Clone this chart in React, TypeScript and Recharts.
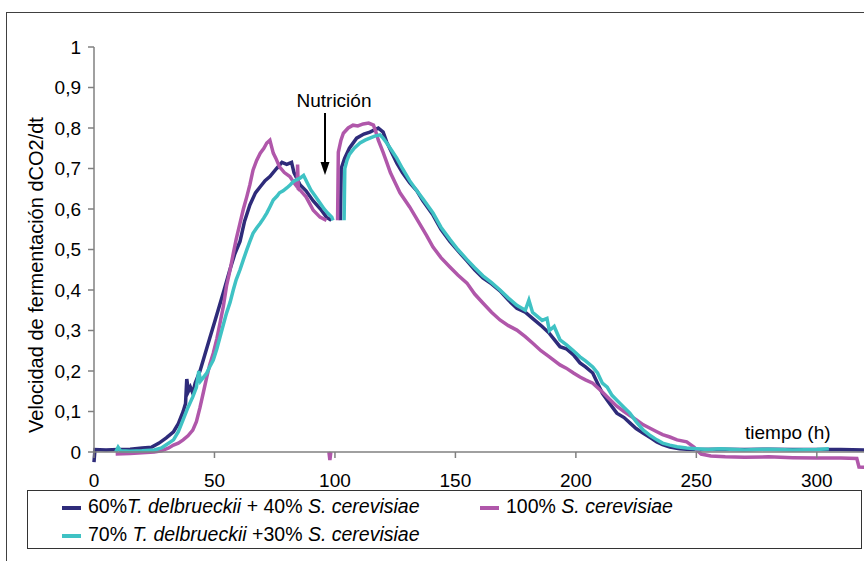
import React from 'react';
import { LineChart, Line, XAxis, YAxis } from 'recharts';

// 60% T. delbrueckii + 40% S. cerevisiae (null = gap at the nutrient addition)
const td60Time = [0, 0.4, 5, 10, 15, 20, 24, 27, 30, 33, 35, 37, 38, 38.5, 39.2, 40, 41, 42, 44, 46, 48, 50, 52, 54, 56.4, 58.5, 60.6, 62.5, 64.7, 67, 69, 71, 73, 75.8, 78, 80, 82, 83, 85.5, 88, 91, 94, 96.5, 98.5, 99.5, 102.3, 102.6, 104, 106, 109, 112, 114.5, 118, 120, 121.5, 123.5, 125.7, 128, 131, 134, 136.5, 140.7, 144, 147.7, 151, 154.8, 158, 161.4, 165, 168.5, 172, 175.5, 179, 182, 186, 189, 193.4, 196, 199, 201.7, 204, 207, 209, 211, 214, 217, 220, 222.4, 225, 228, 231, 233.6, 236, 239, 243, 246, 250, 260, 270, 280, 290, 300, 310, 320];
const td60Rate = [-0.025, 0.006, 0.005, 0.006, 0.007, 0.01, 0.012, 0.022, 0.035, 0.05, 0.07, 0.1, 0.12, 0.18, 0.15, 0.16, 0.145, 0.17, 0.2, 0.24, 0.28, 0.32, 0.36, 0.4, 0.45, 0.49, 0.52, 0.57, 0.61, 0.64, 0.655, 0.67, 0.68, 0.7, 0.715, 0.71, 0.715, 0.69, 0.66, 0.645, 0.62, 0.6, 0.58, 0.572, null, 0.572, 0.7, 0.725, 0.75, 0.775, 0.785, 0.79, 0.8, 0.79, 0.765, 0.74, 0.713, 0.69, 0.665, 0.645, 0.62, 0.585, 0.55, 0.52, 0.497, 0.472, 0.45, 0.43, 0.415, 0.398, 0.375, 0.355, 0.345, 0.33, 0.31, 0.293, 0.26, 0.255, 0.24, 0.22, 0.21, 0.195, 0.17, 0.145, 0.12, 0.096, 0.085, 0.072, 0.058, 0.046, 0.035, 0.025, 0.018, 0.012, 0.008, 0.007, 0.006, 0.007, 0.006, 0.007, 0.006, 0.006, 0.006, 0.005];

// 100% S. cerevisiae
const sc100Time = [9, 15, 20, 25, 28, 31, 33, 35, 37, 39, 41, 42.5, 44, 45.5, 46.8, 48, 49.5, 51, 52.3, 53.7, 55, 56.5, 57.8, 59, 60.6, 62, 63.4, 64.7, 66, 67.5, 69, 70.5, 71.7, 73, 74.4, 75.5, 77, 79, 81.3, 83, 84.3, 84.5, 84.8, 85.5, 88, 91, 93.8, 96.5, 97, 97.5, 97.9, 98.3, 99, 101.1, 101.4, 102.5, 103.5, 105.5, 107.5, 109.5, 111.7, 114, 116, 117, 118, 120, 121.5, 123, 125, 127, 131, 135, 138, 140.7, 144, 147.7, 151, 154.8, 158, 161.4, 165, 168.5, 172, 175.5, 179, 182, 185.5, 189, 193.4, 196, 199, 201.7, 204, 207, 211, 214, 217, 220, 222.4, 225, 228, 231, 233.6, 236, 239, 242, 246, 249, 252, 256, 262, 270, 280, 290, 300, 310, 316.6, 317.5, 320];
const sc100Rate = [-0.005, -0.004, -0.002, 0, 0.003, 0.01, 0.017, 0.022, 0.03, 0.04, 0.054, 0.075, 0.11, 0.15, 0.185, 0.215, 0.244, 0.28, 0.318, 0.36, 0.41, 0.45, 0.49, 0.525, 0.565, 0.6, 0.63, 0.66, 0.696, 0.72, 0.738, 0.75, 0.763, 0.77, 0.738, 0.725, 0.704, 0.69, 0.68, 0.665, 0.655, 0.71, 0.65, 0.647, 0.63, 0.597, 0.58, 0.572, null, 0, -0.02, 0, null, 0.572, 0.74, 0.77, 0.787, 0.8, 0.807, 0.805, 0.81, 0.812, 0.807, 0.79, 0.77, 0.74, 0.715, 0.69, 0.665, 0.64, 0.605, 0.565, 0.535, 0.506, 0.48, 0.457, 0.437, 0.417, 0.39, 0.368, 0.345, 0.326, 0.312, 0.301, 0.285, 0.269, 0.25, 0.235, 0.215, 0.207, 0.195, 0.185, 0.178, 0.17, 0.148, 0.13, 0.113, 0.1, 0.09, 0.08, 0.067, 0.058, 0.05, 0.043, 0.037, 0.03, 0.025, 0.012, -0.005, -0.01, -0.012, -0.013, -0.012, -0.014, -0.015, -0.015, -0.016, -0.037, -0.038];

// 70% T. delbrueckii + 30% S. cerevisiae
const td70Time = [9, 10, 11, 15, 20, 25, 28, 30, 33, 35, 37, 39, 41, 42.5, 43.5, 44.2, 45.5, 46.8, 48, 49.5, 51, 52.3, 53.7, 55, 56.5, 57.8, 59, 60.6, 62, 63.4, 64.7, 66, 67.5, 69, 70.5, 71.7, 73, 74.4, 76, 77, 78.5, 80, 81.5, 82.6, 84, 85.5, 87, 88.5, 90, 92, 93.8, 95.5, 97, 98.7, 99.2, 101, 103.8, 104.1, 105, 106, 108, 110.4, 112.5, 114.5, 116.5, 118.7, 120, 121.5, 123.5, 125.7, 128, 131, 134, 136.5, 140.7, 144, 147.7, 151, 154.8, 158, 161.4, 165, 168.5, 172, 175.5, 179, 180.5, 182, 186, 188, 189, 191, 193.4, 196, 199, 201.7, 204, 207, 209, 211, 213, 215, 217, 220, 222.4, 225, 228, 231, 233.6, 236, 239, 242, 246, 250, 255, 260, 270, 280, 290, 300, 305];
const td70Rate = [0, 0.012, 0.003, 0.002, 0.003, 0.005, 0.01, 0.018, 0.03, 0.05, 0.08, 0.11, 0.136, 0.16, 0.2, 0.175, 0.185, 0.195, 0.21, 0.227, 0.255, 0.284, 0.315, 0.343, 0.37, 0.4, 0.425, 0.45, 0.475, 0.499, 0.52, 0.54, 0.553, 0.565, 0.578, 0.59, 0.605, 0.622, 0.632, 0.64, 0.645, 0.652, 0.66, 0.667, 0.672, 0.676, 0.683, 0.665, 0.647, 0.63, 0.615, 0.6, 0.59, 0.58, 0.572, null, 0.572, 0.7, 0.72, 0.735, 0.75, 0.763, 0.77, 0.775, 0.78, 0.783, 0.775, 0.763, 0.745, 0.725, 0.7, 0.67, 0.645, 0.625, 0.59, 0.555, 0.525, 0.5, 0.475, 0.455, 0.435, 0.418, 0.4, 0.38, 0.362, 0.35, 0.375, 0.345, 0.325, 0.33, 0.3, 0.31, 0.277, 0.265, 0.25, 0.235, 0.225, 0.21, 0.195, 0.17, 0.16, 0.14, 0.128, 0.11, 0.096, 0.075, 0.054, 0.04, 0.03, 0.022, 0.017, 0.013, 0.01, 0.008, 0.006, 0.008, 0.005, 0.007, 0.005, 0.006, 0.008];

const xTicks = [0, 50, 100, 150, 200, 250, 300];
const yTicks = [0, 0.1, 0.2, 0.3, 0.4, 0.5, 0.6, 0.7, 0.8, 0.9, 1];

const NAVY = '#2E2B7A';
const MAGENTA = '#B057AA';
const CYAN = '#3FC2C4';
const FONT = '"Liberation Sans", Arial, sans-serif';

const toPoints = (time: number[], rate: (number | null)[]) =>
  time.map((t, i) => ({ t, v: rate[i] }));

const fmtY = (v: number) => (v === 0 ? '0' : v === 1 ? '1' : v.toFixed(1).replace('.', ','));

const Swatch = ({ color }: { color: string }) => (
  <span style={{ display: 'inline-block', width: 19, height: 4, background: color, marginRight: 7, verticalAlign: 'middle' }} />
);

export default function App() {
  return (
    <div style={{ position: 'absolute', left: 0, top: 0, width: 864, height: 561, overflow: 'hidden', background: '#fff', fontFamily: FONT }}>
      {/* series may dip a little below 0, as in the original */}
      <style>{'.noclip, .noclip * { clip-path: none !important; }'}</style>
      {/* outer frame */}
      <div style={{ position: 'absolute', left: 6, top: 12, width: 900, height: 600, border: '1px solid #404040' }} />

      <div style={{ position: 'absolute', left: 0, top: 0 }}>
        <LineChart width={880} height={561} margin={{ top: 47, right: 15, bottom: 69, left: 0 }}>
          <XAxis
            type="number"
            dataKey="t"
            domain={[0, 320]}
            ticks={xTicks}
            allowDataOverflow
            height={40}
            stroke="#808080"
            strokeWidth={1.5}
            tickSize={6}
            tickMargin={16}
            tick={{ fill: '#000', fontSize: 19 }}
          />
          <YAxis
            type="number"
            domain={[0, 1]}
            ticks={yTicks}
            allowDataOverflow
            width={94}
            stroke="#808080"
            strokeWidth={1.5}
            tickSize={6}
            tickMargin={7}
            tickFormatter={fmtY}
            tick={{ fill: '#000', fontSize: 19 }}
          />
          <Line className="noclip" data={toPoints(td60Time, td60Rate)} dataKey="v" type="linear" dot={false} stroke={NAVY} strokeWidth={3.5} isAnimationActive={false} />
          <Line className="noclip" data={toPoints(sc100Time, sc100Rate)} dataKey="v" type="linear" dot={false} stroke={MAGENTA} strokeWidth={3.5} isAnimationActive={false} />
          <Line className="noclip" data={toPoints(td70Time, td70Rate)} dataKey="v" type="linear" dot={false} stroke={CYAN} strokeWidth={3.5} isAnimationActive={false} />
        </LineChart>
      </div>

      {/* annotations */}
      <svg width={864} height={561} style={{ position: 'absolute', left: 0, top: 0, pointerEvents: 'none' }}>
        <text x={36} y={275} transform="rotate(-90 36 275)" textAnchor="middle" dominantBaseline="central" fontSize={20} fill="#000" fontFamily={FONT}>
          Velocidad de fermentación dCO2/dt
        </text>
        <text x={334} y={107} textAnchor="middle" fontSize={19} fill="#000" fontFamily={FONT}>Nutrición</text>
        <line x1={325} y1={113} x2={325} y2={164} stroke="#000" strokeWidth={2} />
        <polygon points="320.5,162 329.5,162 325,175" fill="#000" />
        <text x={745} y={439} fontSize={19} fill="#000" fontFamily={FONT}>tiempo (h)</text>
      </svg>

      {/* legend */}
      <div style={{ position: 'absolute', left: 27, top: 490, width: 833, height: 57, border: '1.5px solid #333', fontSize: 19.5, color: '#000', lineHeight: '20px' }}>
        <div style={{ position: 'absolute', left: 34, top: 5, whiteSpace: 'nowrap' }}>
          <Swatch color={NAVY} />60%<i>T. delbrueckii</i> + 40% <i>S. cerevisiae</i>
        </div>
        <div style={{ position: 'absolute', left: 452, top: 5, whiteSpace: 'nowrap' }}>
          <Swatch color={MAGENTA} />100% <i>S. cerevisiae</i>
        </div>
        <div style={{ position: 'absolute', left: 34, top: 33, whiteSpace: 'nowrap' }}>
          <Swatch color={CYAN} />70% <i>T. delbrueckii</i> +30% <i>S. cerevisiae</i>
        </div>
      </div>
    </div>
  );
}
